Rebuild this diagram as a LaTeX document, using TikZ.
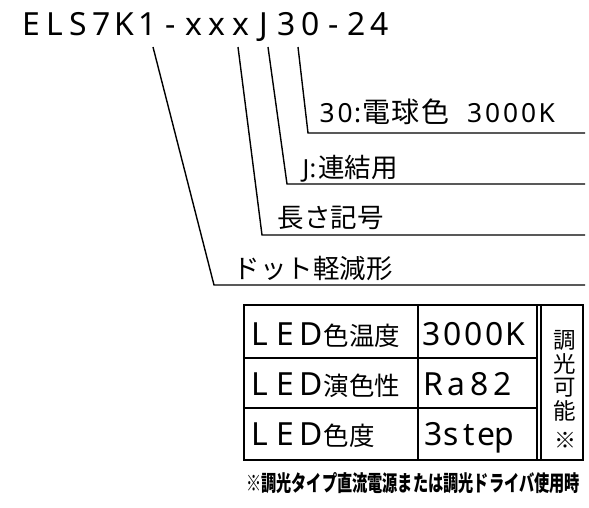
\documentclass[tikz,border=0pt]{standalone}
\usepackage{graphicx}
\usepackage{fontspec}
\setmainfont{Noto Sans CJK JP}
\newfontfamily\latfont[Scale=1.25]{Noto Sans}
\newfontfamily\latsmall[Scale=0.94]{Noto Sans}
\newcommand{\lat}[1]{{\latfont #1}}
\newcommand{\lats}[1]{{\latsmall #1}}
\ExplSyntaxOn
\NewDocumentCommand{\spaced}{mm}{\tl_map_inline:nn {#2} {\makebox[#1][c]{##1}}}
\ExplSyntaxOff

\begin{document}
\begin{tikzpicture}[x=1pt,y=-1pt,line width=1.4pt,
  txt/.style={inner sep=0pt,anchor=base west},
  codetext/.style={txt,font=\fontsize{25.5}{30}\selectfont\latfont},
  lbl/.style={txt,font=\fontsize{26.5}{30}\selectfont},
  cell/.style={txt,font=\fontsize{25.5}{30}\selectfont}]

\useasboundingbox (0,0) rectangle (589,507);

\node[codetext] (code) at (19.5,35) {\spaced{23.2pt}{ELS7K1-xxxJ30-24}};

\coordinate (s1) at (153,47);
\coordinate (b1) at (214,285);
\coordinate (e1) at (585,285);
\coordinate (s2) at (238,47);
\coordinate (b2) at (262,235);
\coordinate (e2) at (585,235);
\coordinate (s3) at (268,47);
\coordinate (b3) at (287,184);
\coordinate (e3) at (585,184);
\coordinate (s4) at (298,47);
\coordinate (b4) at (308,133);
\coordinate (e4) at (585,133);

\draw (s1) -- (b1) -- (e1);
\draw (s2) -- (b2) -- (e2);
\draw (s3) -- (b3) -- (e3);
\draw (s4) -- (b4) -- (e4);

\node[lbl,font=\fontsize{28}{30}\selectfont] (color) at (317.5,122)
  {\lats{\spaced{18pt}{30}:}\spaced{29.5pt}{電球色}\hspace{16pt}\lats{\spaced{18pt}{3000K}}};
\node[lbl] (joint) at (302,177) {\lats{J:}\hspace{2pt}連結用};
\node[lbl] (length) at (277,227) {長さ記号};
\node[lbl] (dots) at (233,278) {ドット軽減形};

\draw (244,305) rectangle (583,460);
\draw (244,358) -- (537,358);
\draw (244,408) -- (537,408);
\draw (418,305) -- (418,460);
\draw (537,305) -- (537,460);
\draw (541,305) -- (541,460);

\node[cell] (temp) at (246.5,345) {\lat{\spaced{25.5pt}{LED}}色温度};
\node[cell] (tempval) at (420,345) {\lat{\spaced{21pt}{3000K}}};
\node[cell] (cri) at (246.5,395) {\lat{\spaced{25.5pt}{LED}}演色性};
\node[cell] (crival) at (421.5,395) {\lat{\spaced{23pt}{Ra82}}};
\node[cell] (chroma) at (246.5,445) {\lat{\spaced{25.5pt}{LED}}色度};
\node[cell] (chromaval) at (423.5,445) {\lat{\spaced{17.9pt}{3step}}};

\node[inner sep=0pt,align=center,font=\fontsize{22.5}{23.5}\selectfont] (dim) at (565,376) {調\\光\\可\\能};
\node[inner sep=0pt,font=\fontsize{22}{22}\selectfont\bfseries] (mark) at (565,440) {※};

\node[inner sep=0pt,font=\fontsize{22}{24}\selectfont\bfseries] (note) at (413,483)
  {\scalebox{0.69}[1]{※調光タイプ直流電源または調光ドライバ使用時}};

\end{tikzpicture}
\end{document}
